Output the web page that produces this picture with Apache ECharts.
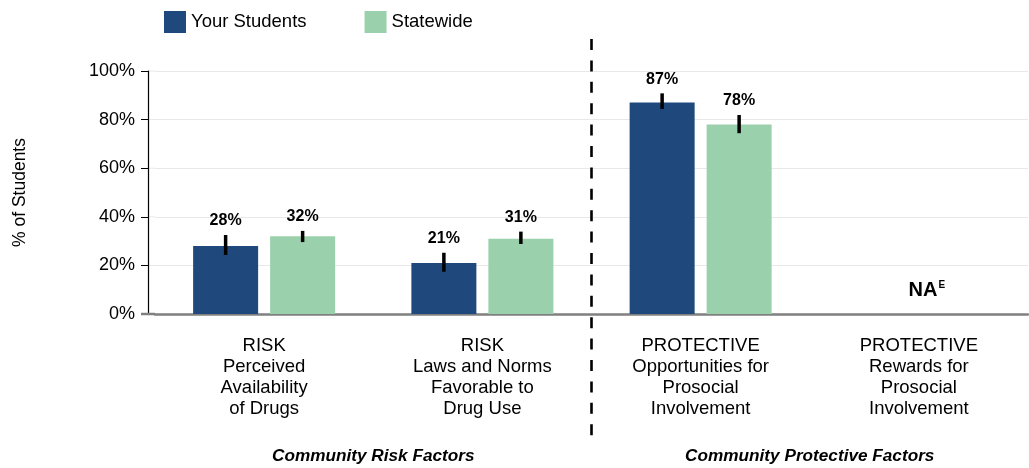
<!DOCTYPE html>
<html>
<head>
<meta charset="utf-8">
<script src="https://cdn.jsdelivr.net/npm/echarts@6/dist/echarts.min.js"></script>
<style>
html,body{margin:0;padding:0;background:#fff;}
#chart{width:1029px;height:468px;}
</style>
</head>
<body>
<div id="chart"></div>
<script>
// ---- data ----
var categories = [
  'RISK\nPerceived\nAvailability\nof Drugs',
  'RISK\nLaws and Norms\nFavorable to\nDrug Use',
  'PROTECTIVE\nOpportunities for\nProsocial\nInvolvement',
  'PROTECTIVE\nRewards for\nProsocial\nInvolvement'
];
var seriesNames = ['Your Students', 'Statewide'];
var yourStudents = [28, 21, 87, null];
var statewide = [32, 31, 78, null];
var yourLow = [24.3, 17.4, 84.4, null];
var yourHigh = [32.5, 25.2, 90.8, null];
var stateLow = [29.6, 28.8, 74.4, null];
var stateHigh = [34.2, 33.9, 81.9, null];
var naCategories = [3];
var groupLabels = ['Community Risk Factors', 'Community Protective Factors'];
var groupSpans = [[0, 1], [2, 3]];
var yTicks = [0, 20, 40, 60, 80, 100];

var FONT = '"Liberation Sans", Arial, sans-serif';
var COLORS = ['#1F497D', '#9BD0AC'];
var BAR_W = 65, BAR_GAP = 12;
var GRID_LEFT = 155, Y_OFFSET = 7;

function errData(vals, lo, hi) {
  var out = [];
  for (var i = 0; i < vals.length; i++) {
    if (vals[i] == null) continue;
    out.push([i, lo[i], hi[i], vals[i]]);
  }
  return out;
}

function makeErrRender(offset) {
  return function (params, api) {
    var cat = api.value(0);
    var top = api.coord([cat, api.value(2)]);
    var bot = api.coord([cat, api.value(1)]);
    var x = top[0] + offset;
    return {
      type: 'group',
      children: [
        { type: 'line', shape: { x1: x, y1: top[1], x2: x, y2: bot[1] },
          style: { stroke: '#000', lineWidth: 3.5 } },
        { type: 'text', x: x, y: top[1] - 6,
          style: { text: Math.round(api.value(3)) + '%', textAlign: 'center', textVerticalAlign: 'bottom',
                   font: 'bold 16px ' + FONT, fill: '#000' } }
      ]
    };
  };
}

var chart = echarts.init(document.getElementById('chart'));
var option = {
  animation: false,
  textStyle: { fontFamily: FONT },
  legend: {
    data: seriesNames,
    left: 159, top: 6,
    itemWidth: 22, itemHeight: 22, itemGap: 58,
    icon: 'rect',
    textStyle: { fontSize: 18.5, color: '#000', fontFamily: FONT }
  },
  grid: { left: GRID_LEFT, right: 1, top: 71, bottom: 154, outerBoundsMode: 'none', containLabel: false },
  xAxis: {
    type: 'category',
    data: categories,
    axisLine: { lineStyle: { color: '#808080', width: 2.5 } },
    axisTick: { show: false },
    axisLabel: { color: '#000', fontSize: 18.5, lineHeight: 21, margin: 21, fontFamily: FONT, interval: 0 }
  },
  yAxis: {
    type: 'value',
    min: 0, max: 100, interval: 20,
    offset: Y_OFFSET,
    name: '% of Students',
    nameLocation: 'middle',
    nameGap: 119,
    nameTextStyle: { fontSize: 17.5, color: '#000', fontFamily: FONT },
    axisLine: { show: true, lineStyle: { color: '#000', width: 1.2 } },
    axisTick: { show: true, length: 7, lineStyle: { color: '#000' } },
    axisLabel: { formatter: '{value}%', color: '#000', fontSize: 18, margin: 13, fontFamily: FONT },
    splitLine: { lineStyle: { color: '#e8e8e8' } }
  },
  series: [
    { name: seriesNames[0], type: 'bar', data: yourStudents, barWidth: BAR_W,
      barGap: (BAR_GAP / BAR_W * 100) + '%', itemStyle: { color: COLORS[0] } },
    { name: seriesNames[1], type: 'bar', data: statewide, barWidth: BAR_W,
      itemStyle: { color: COLORS[1] } },
    { type: 'custom', data: errData(yourStudents, yourLow, yourHigh), renderItem: makeErrRender(-(BAR_W + BAR_GAP) / 2), z: 5 },
    { type: 'custom', data: errData(statewide, stateLow, stateHigh), renderItem: makeErrRender((BAR_W + BAR_GAP) / 2), z: 5 },
    { type: 'custom', data: naCategories.map(function (c) { return [c, 0]; }), z: 5,
      renderItem: function (params, api) {
        var p = api.coord([api.value(0), 0]);
        return { type: 'text', x: p[0] + 8, y: p[1] - 14,
          style: { text: '{a|NA}{b|E}', textAlign: 'center', textVerticalAlign: 'bottom',
            rich: { a: { font: 'bold 20px ' + FONT, fill: '#000', lineHeight: 20 },
                    b: { font: 'bold 10px ' + FONT, fill: '#000', verticalAlign: 'top', lineHeight: 14, padding: [0, 0, 0, 1] } } } };
      } }
  ]
};
chart.setOption(option);

// divider, group labels and axis extensions positioned from the axes
function drawOverlay() {
  var c = categories.map(function (_, i) { return chart.convertToPixel({ xAxisIndex: 0 }, i); });
  var yAxisX = GRID_LEFT - Y_OFFSET;
  var divX = (c[1] + c[2]) / 2;
  var g = [{ type: 'line', shape: { x1: divX, y1: 39, x2: divX, y2: 436 },
             style: { stroke: '#000', lineWidth: 2.6, lineDash: [11, 10.4] }, z: 10 }];
  yTicks.forEach(function (t) {
    var y = chart.convertToPixel({ yAxisIndex: 0 }, t);
    if (t === 0) {
      g.push({ type: 'line', shape: { x1: yAxisX - 7, y1: y, x2: GRID_LEFT, y2: y },
               style: { stroke: '#808080', lineWidth: 2.5 }, z: 1 });
    } else {
      g.push({ type: 'line', shape: { x1: yAxisX, y1: y, x2: GRID_LEFT, y2: y },
               style: { stroke: '#e8e8e8', lineWidth: 1 }, z: 0 });
    }
  });
  groupSpans.forEach(function (s, i) {
    g.push({ type: 'text', x: (c[s[0]] + c[s[1]]) / 2, y: 456,
      style: { text: groupLabels[i], textAlign: 'center', textVerticalAlign: 'middle',
               font: 'italic bold 17.2px ' + FONT, fill: '#000' } });
  });
  chart.setOption({ graphic: g });
}
drawOverlay();
</script>
</body>
</html>
